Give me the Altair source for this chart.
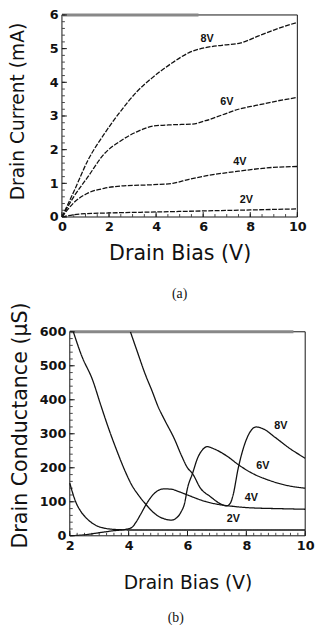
import altair as alt
import pandas as pd

# ---------------- Panel (a): drain current vs drain bias ----------------
a_8v_x = [0, 0.54, 1.1, 1.79, 2.49, 3.18, 3.88, 4.71, 5.4, 6.1, 6.8, 7.6, 8.33, 9.03, 10]
a_8v_y = [0, 0.81, 1.68, 2.46, 3.14, 3.72, 4.16, 4.59, 4.88, 5.03, 5.1, 5.17, 5.37, 5.56, 5.78]
a_6v_x = [0, 0.5, 1.1, 1.79, 2.49, 3.18, 3.88, 4.71, 5.54, 6.1, 6.8, 7.5, 8.3, 9.17, 10]
a_6v_y = [0, 0.6, 1.19, 1.87, 2.26, 2.53, 2.7, 2.74, 2.76, 2.86, 3.03, 3.2, 3.32, 3.45, 3.55]
a_4v_x = [0, 0.5, 1.1, 1.79, 2.49, 3.88, 4.71, 5.4, 6.1, 7.5, 8.9, 10]
a_4v_y = [0, 0.42, 0.71, 0.85, 0.92, 0.96, 1.0, 1.12, 1.22, 1.36, 1.47, 1.5]
a_2v_x = [0, 0.5, 1, 2, 4, 6, 8, 10]
a_2v_y = [0, 0.07, 0.1, 0.12, 0.15, 0.18, 0.21, 0.24]
a_lab_text = ["8V", "6V", "4V", "2V"]
a_lab_x = [6.17, 7.0, 7.56, 7.83]
a_lab_y = [5.29, 3.4, 1.63, 0.51]
a_xticks = [0, 2, 4, 6, 8, 10]
a_yticks = [0, 1, 2, 3, 4, 5, 6]

# ---------------- Panel (b): drain conductance vs drain bias ----------------
b_2v_x = [2, 2.1, 2.2, 2.35, 2.55, 2.75, 2.9, 3.1, 3.35, 3.7, 4, 5, 6, 7, 8, 9, 10]
b_2v_y = [155, 125, 100, 75, 53, 38, 30, 24, 20, 18, 17, 17, 17, 17, 17, 17, 17]
b_4v_x = [2, 2.5, 3, 3.5, 3.9, 4.1, 4.25, 4.4, 4.6, 4.8, 5.0, 5.2, 5.45, 5.7, 6.0, 6.3, 6.6,
          7.0, 7.5, 8, 8.5, 9, 9.5, 10]
b_4v_y = [0, 3, 9, 15, 19, 24, 40, 62, 93, 118, 133, 138, 137, 130, 120, 110, 101,
          93, 87, 83, 81, 80, 79, 78]
b_6v_x = [2.12, 2.4, 2.78, 3.05, 3.33, 3.6, 3.89, 4.1, 4.33, 4.58, 4.8, 5.0, 5.25, 5.45,
          5.62, 5.78, 5.9, 6.0, 6.17, 6.35, 6.5, 6.67, 6.89, 7.33, 7.78, 8.22, 8.78, 9.33, 10]
b_6v_y = [600, 530, 457, 385, 313, 250, 188, 150, 120, 93, 72, 58, 49, 46,
          52, 70, 95, 140, 183, 230, 252, 262, 256, 235, 206, 183, 163, 149, 140]
b_8v_x = [4.06, 4.3, 4.56, 4.8, 5.0, 5.22, 5.56, 5.8, 6.0, 6.17, 6.44, 6.78, 7.1, 7.33,
          7.45, 7.55, 7.72, 7.89, 8.11, 8.33, 8.56, 9.0, 9.44, 10]
b_8v_y = [600, 540, 476, 425, 380, 341, 284, 235, 200, 183, 140, 115, 95, 88,
          95, 120, 197, 255, 303, 320, 315, 288, 259, 228]
b_lab_text = ["8V", "6V", "4V", "2V"]
b_lab_x = [9.17, 8.56, 8.17, 7.56]
b_lab_y = [322, 205, 111, 48]
b_xticks = [2, 4, 6, 8, 10]
b_yticks = [0, 100, 200, 300, 400, 500, 600]


def series_df(pairs):
    rows = []
    for name, xs, ys in pairs:
        for i, (x, y) in enumerate(zip(xs, ys)):
            rows.append({"s": name, "x": x, "y": y, "o": i})
    return pd.DataFrame(rows)


def frange(start, stop, step):
    out = []
    n = int(round((stop - start) / step))
    for i in range(n + 1):
        out.append(round(start + i * step, 6))
    return out


FONT = "Liberation Sans"
TFONT = "DejaVu Sans"
PW = 240  # plot-frame width


def panel(df, labels, xdom, ydom, xt, yt, xminor, yminor, H, L, xtitle, ytitle,
          xts, yts, ytp, xtp, ty, caption, cap_off, cap_dx, dash, top_x):
    W = PW + L
    xs = alt.Scale(domain=xdom, nice=False, zero=False, range=[L, W])
    ys = alt.Scale(domain=ydom, nice=False, zero=False)
    xaxis = alt.Axis(values=xt, ticks=False, domain=False, grid=False, labelFont=TFONT,
                     labelFontSize=13, labelFontWeight="bold", labelPadding=4,
                     labelColor="#111", title=xtitle, titleFont=TFONT, titleFontSize=xts,
                     titleFontWeight="normal", titlePadding=xtp, titleColor="#111",
                     titleX=L + PW / 2, labelFlush=False, labelOverlap=False)
    yaxis = alt.Axis(values=yt, ticks=False, domain=False, grid=False, labelFont=TFONT,
                     labelFontSize=13, labelFontWeight="bold", labelPadding=4,
                     labelColor="#111", title=ytitle, titleFont=TFONT, titleFontSize=yts,
                     titleFontWeight="normal", titlePadding=ytp, titleColor="#111",
                     titleY=ty, offset=-L, labelFlush=False, labelOverlap=False)
    X = lambda f: alt.X(f, scale=xs, axis=xaxis)
    Y = lambda f: alt.Y(f, scale=ys, axis=yaxis)
    frame = alt.Chart(pd.DataFrame({"k": [0]})).mark_rect(
        filled=False, stroke="#111", strokeWidth=1).encode(
        x=alt.value(L), x2=alt.value(W), y=alt.value(0), y2=alt.value(H))
    lines = alt.Chart(df).mark_line(color="#111", strokeWidth=1.3, strokeDash=dash,
                                    interpolate="monotone", clip=True).encode(
        x=X("x:Q"), y=Y("y:Q"), detail="s:N", order="o:Q")
    lab = alt.Chart(pd.DataFrame(labels)).mark_text(
        font=FONT, fontSize=11, fontWeight="bold", color="#111").encode(
        x=X("x:Q"), y=Y("y:Q"), text="t:N")
    # inward ticks
    xmaj = alt.Chart(pd.DataFrame({"x": xt})).mark_rule(color="#111", strokeWidth=1).encode(
        x=X("x:Q"), y=alt.value(H), y2=alt.value(H - 5))
    xmin = alt.Chart(pd.DataFrame({"x": xminor})).mark_rule(color="#444", strokeWidth=1).encode(
        x=X("x:Q"), y=alt.value(H), y2=alt.value(H - 3))
    ymaj = alt.Chart(pd.DataFrame({"y": yt})).mark_rule(color="#111", strokeWidth=1).encode(
        y=Y("y:Q"), x=alt.value(L), x2=alt.value(L + 5))
    ymin = alt.Chart(pd.DataFrame({"y": yminor})).mark_rule(color="#444", strokeWidth=1).encode(
        y=Y("y:Q"), x=alt.value(L), x2=alt.value(L + 3))
    top = alt.Chart(pd.DataFrame({"x": [top_x[0]], "b": [top_x[1]]})).mark_rule(
        color="#888", strokeWidth=3).encode(
        x=X("x:Q"), x2="b:Q", y=alt.value(0))
    return alt.layer(frame, top, xmin, xmaj, ymin, ymaj, lines, lab).properties(
        width=W, height=H,
        title=alt.TitleParams(caption, orient="bottom", font="Liberation Serif",
                              fontSize=14, fontWeight="normal", offset=cap_off,
                              dx=cap_dx, color="#111"))


df_a = series_df([("8V", a_8v_x, a_8v_y), ("6V", a_6v_x, a_6v_y),
                  ("4V", a_4v_x, a_4v_y), ("2V", a_2v_x, a_2v_y)])
df_b = series_df([("8V", b_8v_x, b_8v_y), ("6V", b_6v_x, b_6v_y),
                  ("4V", b_4v_x, b_4v_y), ("2V", b_2v_x, b_2v_y)])

pa = panel(df_a, {"t": a_lab_text, "x": a_lab_x, "y": a_lab_y}, [0, 10], [0, 6],
           a_xticks, a_yticks, frange(0, 10, 0.5), frange(0, 6, 0.2), 206, 0,
           "Drain Bias (V)", "Drain Current (mA)", 21, 19, 22, 9, 98, "(a)", 25, 0,
           [5, 1.5], [0, 5.8])
pb = panel(df_b, {"t": b_lab_text, "x": b_lab_x, "y": b_lab_y}, [2, 10], [0, 600],
           b_xticks, b_yticks, frange(2, 10, 0.25), frange(0, 600, 20), 208, 8,
           "Drain Bias (V)", "Drain Conductance (\u00b5S)", 19, 21, 9, 22, 95, "(b)", 19, -8,
           [1, 0], [2, 9.6])

chart = alt.ConcatChart(concat=[pa, pb], columns=1, spacing=-2).properties(
    padding={"left": 0, "top": -6, "right": 0, "bottom": 0}
).configure_view(stroke="transparent")

chart.save("out.html", embed_options={"renderer": "svg", "actions": False})
